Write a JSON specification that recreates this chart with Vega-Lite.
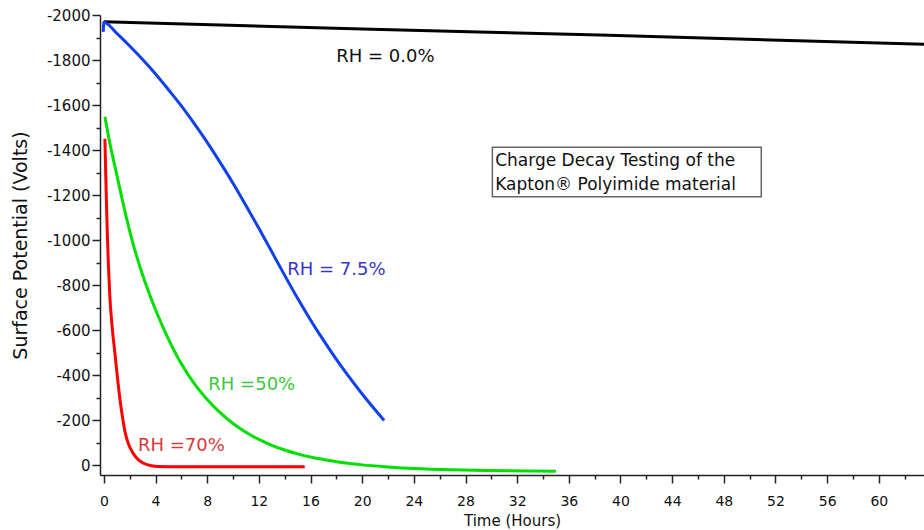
{
  "$schema": "https://vega.github.io/schema/vega-lite/v6.json",
  "width": 824,
  "height": 460,
  "autosize": {"type": "none"},
  "padding": {"left": 100, "top": 15, "right": 0, "bottom": 55},
  "background": "white",
  "config": {"view": {"stroke": null}, "font": "DejaVu Sans"},
  "datasets": {
    "curves": [
      {"series": "RH0", "t": 0, "v": -1970},
      {"series": "RH0", "t": 20, "v": -1938},
      {"series": "RH0", "t": 38.4, "v": -1911},
      {"series": "RH0", "t": 63.5, "v": -1870},
      {"series": "RH7", "t": -0.05, "v": -1925},
      {"series": "RH7", "t": 0, "v": -1968},
      {"series": "RH7", "t": 1, "v": -1918},
      {"series": "RH7", "t": 2, "v": -1862},
      {"series": "RH7", "t": 3, "v": -1802},
      {"series": "RH7", "t": 4, "v": -1738},
      {"series": "RH7", "t": 5, "v": -1668},
      {"series": "RH7", "t": 6, "v": -1596},
      {"series": "RH7", "t": 7, "v": -1517},
      {"series": "RH7", "t": 8, "v": -1434},
      {"series": "RH7", "t": 9, "v": -1345},
      {"series": "RH7", "t": 10, "v": -1252},
      {"series": "RH7", "t": 11, "v": -1153},
      {"series": "RH7", "t": 12, "v": -1052},
      {"series": "RH7", "t": 13, "v": -948},
      {"series": "RH7", "t": 14, "v": -843},
      {"series": "RH7", "t": 15, "v": -741},
      {"series": "RH7", "t": 16, "v": -645},
      {"series": "RH7", "t": 17, "v": -555},
      {"series": "RH7", "t": 18, "v": -470},
      {"series": "RH7", "t": 19, "v": -391},
      {"series": "RH7", "t": 20, "v": -316},
      {"series": "RH7", "t": 21, "v": -246},
      {"series": "RH7", "t": 21.7, "v": -198},
      {"series": "RH50", "t": 0.08, "v": -1548},
      {"series": "RH50", "t": 0.5, "v": -1420},
      {"series": "RH50", "t": 1, "v": -1290},
      {"series": "RH50", "t": 1.5, "v": -1160},
      {"series": "RH50", "t": 2, "v": -1040},
      {"series": "RH50", "t": 2.5, "v": -935},
      {"series": "RH50", "t": 3, "v": -845},
      {"series": "RH50", "t": 3.5, "v": -765},
      {"series": "RH50", "t": 4, "v": -690},
      {"series": "RH50", "t": 5, "v": -560},
      {"series": "RH50", "t": 6, "v": -450},
      {"series": "RH50", "t": 7, "v": -362},
      {"series": "RH50", "t": 8, "v": -292},
      {"series": "RH50", "t": 9, "v": -233},
      {"series": "RH50", "t": 10, "v": -185},
      {"series": "RH50", "t": 11, "v": -146},
      {"series": "RH50", "t": 12, "v": -114},
      {"series": "RH50", "t": 13, "v": -88},
      {"series": "RH50", "t": 14, "v": -67},
      {"series": "RH50", "t": 15, "v": -50},
      {"series": "RH50", "t": 16, "v": -36},
      {"series": "RH50", "t": 17, "v": -25},
      {"series": "RH50", "t": 18, "v": -15},
      {"series": "RH50", "t": 20, "v": -1},
      {"series": "RH50", "t": 22, "v": 8},
      {"series": "RH50", "t": 24, "v": 15},
      {"series": "RH50", "t": 27, "v": 21},
      {"series": "RH50", "t": 30, "v": 24},
      {"series": "RH50", "t": 35, "v": 27},
      {"series": "RH70", "t": 0.08, "v": -1450},
      {"series": "RH70", "t": 0.15, "v": -1280},
      {"series": "RH70", "t": 0.25, "v": -1060},
      {"series": "RH70", "t": 0.35, "v": -890},
      {"series": "RH70", "t": 0.46, "v": -750},
      {"series": "RH70", "t": 0.6, "v": -640},
      {"series": "RH70", "t": 0.85, "v": -500},
      {"series": "RH70", "t": 1.05, "v": -390},
      {"series": "RH70", "t": 1.24, "v": -295},
      {"series": "RH70", "t": 1.45, "v": -210},
      {"series": "RH70", "t": 1.63, "v": -150},
      {"series": "RH70", "t": 1.9, "v": -95},
      {"series": "RH70", "t": 2.27, "v": -52},
      {"series": "RH70", "t": 2.7, "v": -22},
      {"series": "RH70", "t": 3.17, "v": -6},
      {"series": "RH70", "t": 3.7, "v": 3},
      {"series": "RH70", "t": 4.2, "v": 6},
      {"series": "RH70", "t": 6, "v": 7},
      {"series": "RH70", "t": 15.55, "v": 7}
    ],
    "labels": [
      {"series": "RH0", "label": "RH = 0.0%", "t": 21.8, "v": -1813},
      {"series": "RH7", "label": "RH = 7.5%", "t": 18.0, "v": -867},
      {"series": "RH50", "label": "RH =50%", "t": 11.45, "v": -356},
      {"series": "RH70", "label": "RH =70%", "t": 6.0, "v": -86}
    ],
    "box": [
      {"t": 30.08, "t2": 50.9, "v": -1412, "v2": -1192}
    ],
    "boxtext": [
      {"line": "Charge Decay Testing of the", "t": 30.3, "v": -1350},
      {"line": "Kapton® Polyimide material", "t": 30.3, "v": -1245}
    ]
  },
  "encoding": {
    "x": {
      "field": "t",
      "type": "quantitative",
      "scale": {"domain": [-0.3, 63.5], "nice": false, "zero": false},
      "axis": {
        "title": "Time (Hours)",
        "titleFont": "DejaVu Sans",
        "titleFontSize": 15,
        "titleFontWeight": "normal",
        "titleColor": "#111",
        "titlePadding": 5,
        "values": [0,2,4,6,8,10,12,14,16,18,20,22,24,26,28,30,32,34,36,38,40,42,44,46,48,50,52,54,56,58,60,62],
        "format": "d",
        "labelExpr": "datum.value % 4 === 0 ? datum.label : ''",
        "labelFont": "DejaVu Sans",
        "labelFontSize": 14,
        "labelColor": "#111",
        "labelPadding": 11,
        "labelOverlap": false,
        "labelFlush": false,
        "tickSize": {"condition": {"test": "datum.value % 4 === 0", "value": 8}, "value": 4},
        "tickColor": "#222",
        "tickWidth": 1.5,
        "domainColor": "#222",
        "domainWidth": 1.5,
        "grid": false
      }
    },
    "y": {
      "field": "v",
      "type": "quantitative",
      "scale": {"domain": [-2000, 44], "reverse": true, "nice": false, "zero": false},
      "axis": {
        "title": "Surface Potential (Volts)",
        "titleFont": "DejaVu Sans",
        "titleFontSize": 19,
        "titleFontWeight": "normal",
        "titleColor": "#111",
        "titlePadding": 16,
        "values": [-2000,-1900,-1800,-1700,-1600,-1500,-1400,-1300,-1200,-1100,-1000,-900,-800,-700,-600,-500,-400,-300,-200,-100,0],
        "labelExpr": "datum.value % 200 === 0 ? (datum.value < 0 ? '-' + abs(datum.value) : '0') : ''",
        "labelFont": "DejaVu Sans",
        "labelFontSize": 15,
        "labelColor": "#111",
        "labelPadding": 2,
        "labelOverlap": false,
        "labelFlush": false,
        "tickSize": {"condition": {"test": "datum.value % 200 === 0", "value": 8}, "value": 4},
        "tickColor": "#222",
        "tickWidth": 1.5,
        "domainColor": "#222",
        "domainWidth": 1.5,
        "grid": false
      }
    }
  },
  "layer": [
    {
      "data": {"name": "box"},
      "mark": {"type": "rect", "fill": "white", "stroke": "#666", "strokeWidth": 1.5},
      "encoding": {
        "x2": {"field": "t2"},
        "y2": {"field": "v2"}
      }
    },
    {
      "data": {"name": "curves"},
      "mark": {"type": "line", "strokeWidth": 3, "interpolate": "monotone", "clip": true},
      "encoding": {
        "color": {
          "field": "series",
          "type": "nominal",
          "scale": {"domain": ["RH0", "RH7", "RH50", "RH70"], "range": ["#000000", "#1040f0", "#00e000", "#ff0000"]},
          "legend": null
        }
      }
    },
    {
      "data": {"name": "labels"},
      "mark": {"type": "text", "fontSize": 18, "font": "DejaVu Sans", "align": "center", "baseline": "middle"},
      "encoding": {
        "text": {"field": "label"},
        "color": {
          "field": "series",
          "type": "nominal",
          "scale": {"domain": ["RH0", "RH7", "RH50", "RH70"], "range": ["#111111", "#3535c8", "#3cc83c", "#d83a3a"]},
          "legend": null
        }
      }
    },
    {
      "data": {"name": "boxtext"},
      "mark": {"type": "text", "fontSize": 17, "font": "DejaVu Sans", "align": "left", "baseline": "middle", "color": "#111"},
      "encoding": {
        "text": {"field": "line"}
      }
    }
  ],
  "resolve": {"scale": {"color": "independent"}}
}
